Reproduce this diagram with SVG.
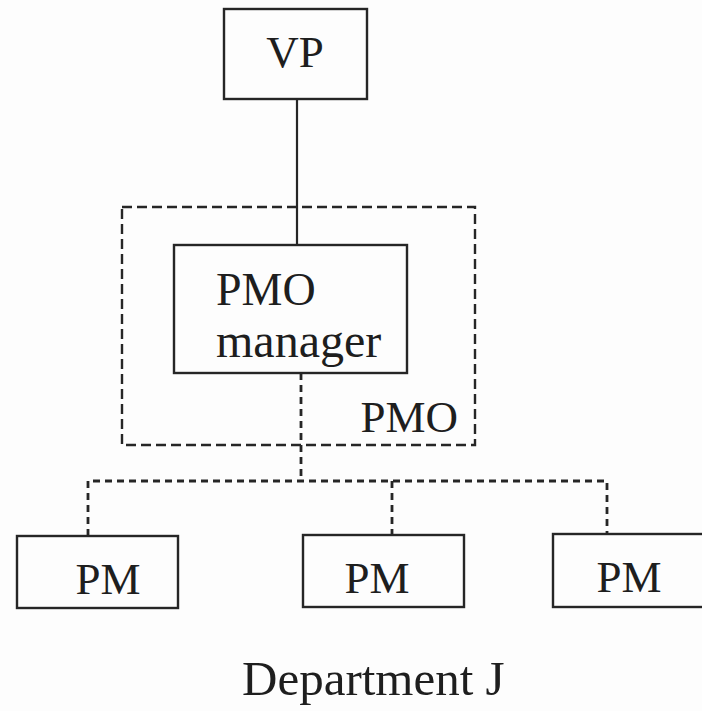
<svg xmlns="http://www.w3.org/2000/svg" width="702" height="711" viewBox="0 0 702 711">
<style>
.box{fill:none;stroke:#262626;stroke-width:2.4}
.grp{fill:none;stroke:#262626;stroke-width:2.4;stroke-dasharray:10 5}
.solid{fill:none;stroke:#262626;stroke-width:2.2}
.dash{fill:none;stroke:#262626;stroke-width:2.8;stroke-dasharray:7 5}
text{font-family:"Liberation Serif","Times New Roman",serif;fill:#1e1e1e}
</style>
<rect width="702" height="711" fill="#fdfdfd"/>
<g id="connectors">
<line class="solid" x1="297" y1="99" x2="297" y2="245"/>
<line class="dash" x1="301" y1="373" x2="301" y2="481"/>
<polyline class="dash" points="88,536 88,481 607,481 607,535"/>
<line class="dash" x1="392" y1="481" x2="392" y2="535"/>
</g>
<g id="vp">
<rect class="box" x="224" y="9" width="143" height="90"/>
<text x="295" y="67" font-size="45" text-anchor="middle">VP</text>
</g>
<g id="pmo">
<rect class="grp" x="122" y="207" width="353" height="238"/>
<text x="458" y="432" font-size="45" text-anchor="end">PMO</text>
</g>
<g id="pmo-manager">
<rect class="box" x="174" y="245" width="233" height="128"/>
<text x="216" y="305" font-size="46">PMO</text>
<text x="216" y="357" font-size="48">manager</text>
</g>
<g id="pm1">
<rect class="box" x="17" y="536" width="161" height="72"/>
<text x="108" y="594" font-size="45" text-anchor="middle">PM</text>
</g>
<g id="pm2">
<rect class="box" x="303" y="535" width="161" height="72"/>
<text x="377" y="593" font-size="45" text-anchor="middle">PM</text>
</g>
<g id="pm3">
<rect class="box" x="553" y="534" width="160" height="73"/>
<text x="629" y="592" font-size="45" text-anchor="middle">PM</text>
</g>
<text x="242" y="695" font-size="49">Department J</text>
</svg>
